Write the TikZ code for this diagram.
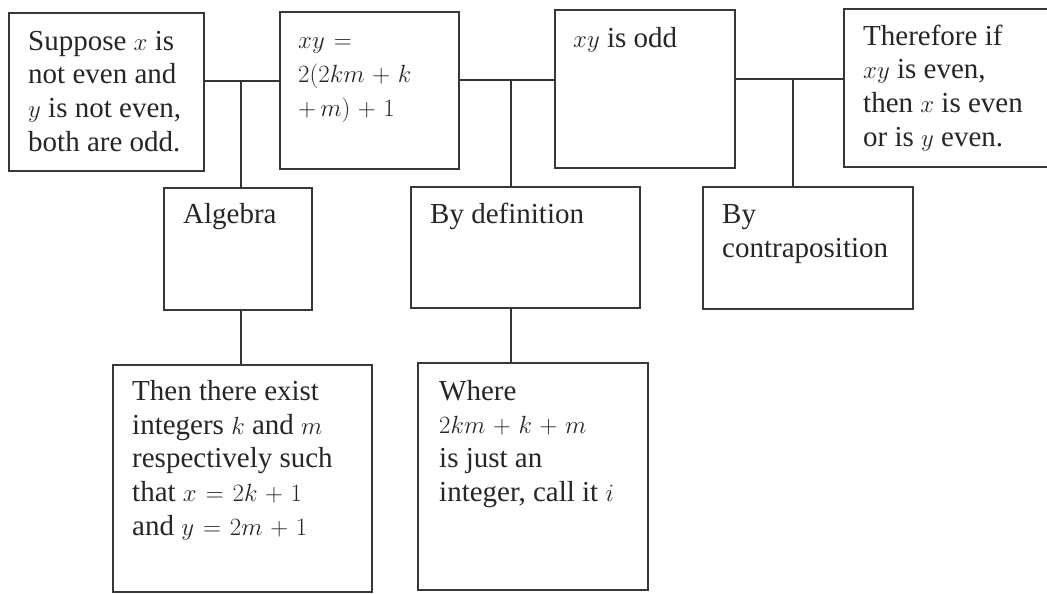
\documentclass[tikz,border=0pt]{standalone}
\usepackage{fontspec}
\setmainfont{Liberation Serif}
\medmuskip=5.5mu plus 2mu minus 4mu
\thickmuskip=6.5mu plus 5mu
\begin{document}
\begin{tikzpicture}[x=1pt,y=-1pt,
  box/.style={draw=black!78,line width=1.3pt,inner sep=0pt,outer sep=0pt,anchor=north west},
  txt/.style={anchor=base west,inner sep=0pt,align=left,text=black!85,font=\fontsize{29}{33.6}\selectfont},
  conn/.style={draw=black!80,line width=1.3pt}]
\useasboundingbox (0,0) rectangle (1047,594);
\clip (0,0) rectangle (1047,594);
% boxes
\node[box,minimum width=195pt,minimum height=158pt] (A) at (9,13) {};
\node[box,minimum width=179pt,minimum height=157pt] (B) at (280,12) {};
\node[box,minimum width=180pt,minimum height=158pt] (C) at (555,10) {};
\node[box,minimum width=220pt,minimum height=158pt] (D) at (844,9) {};
\node[box,minimum width=148pt,minimum height=122pt] (alg) at (164,188) {};
\node[box,minimum width=229pt,minimum height=121pt] (def) at (411,187) {};
\node[box,minimum width=210pt,minimum height=122pt] (con) at (703,187) {};
\node[box,minimum width=259pt,minimum height=227pt] (then) at (113,365) {};
\node[box,minimum width=230pt,minimum height=227pt] (where) at (418,363) {};
% texts (anchored at the baseline of their last line)
\node[txt] (At) at (28,151) {Suppose $x$ is\\not even and\\$y$ is not even,\\both are odd.};
\node[txt] (Bt) at (298,116) {$xy=$\\$2(2km+k$\\$+\,m)+1$};
\node[txt] (Ct) at (573,48) {$xy$ is odd};
\node[txt] (Dt) at (863,146) {Therefore if\\$xy$ is even,\\then $x$ is even\\or is $y$ even.};
\node[txt] (algt) at (183,223) {Algebra};
\node[txt] (deft) at (430,223) {By definition};
\node[txt] (cont) at (722,257) {By\\contraposition};
\node[txt] (thent) at (132,535) {Then there exist\\integers $k$ and $m$\\respectively such\\that $x=2k+1$\\and $y=2m+1$};
\node[txt] (wheret) at (439,501) {Where\\$2km+k+m$\\is just an\\integer, call it $i$};
% junctions
\coordinate (j1) at (241,81);
\coordinate (j2) at (511,80);
\coordinate (j3) at (793,79);
% connectors
\draw[conn] (A.east |- j1) -- (B.west |- j1);
\draw[conn] (B.east |- j2) -- (C.west |- j2);
\draw[conn] (C.east |- j3) -- (D.west |- j3);
\draw[conn] (j1) -- (alg.north -| j1);
\draw[conn] (j2) -- (def.north -| j2);
\draw[conn] (j3) -- (con.north -| j3);
\draw[conn] (alg.south -| j1) -- (then.north -| j1);
\draw[conn] (def.south -| j2) -- (where.north -| j2);
\end{tikzpicture}
\end{document}
